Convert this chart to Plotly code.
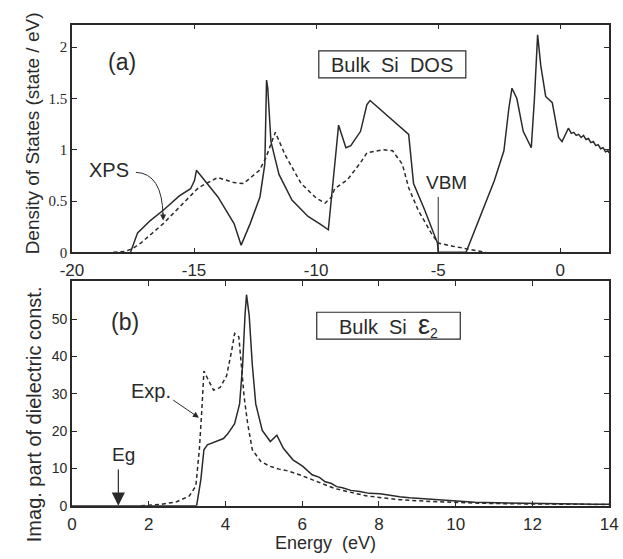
import plotly.graph_objects as go

# ---------------- (a) density of states ----------------
dos_calc_e = [-17.6, -17.31, -16.79, -16.26, -15.6, -15.14, -14.98, -14.9,
              -14.02, -13.36, -13.07, -12.70, -12.30, -12.10, -12.03, -11.98,
              -11.85, -11.52, -10.99, -10.33, -9.8, -9.5, -9.17, -9.08,
              -8.78, -8.58, -8.18, -7.92, -7.79, -7.13, -6.61, -6.21,
              -6.01, -5.55, -5.03, -5.0, -3.86, -3.23, -2.70, -2.31,
              -2.11, -1.98, -1.78, -1.52, -1.19, -1.06, -0.93, -0.80,
              -0.60, -0.33, -0.07, 0.07, 0.33, 0.45, 0.55, 0.65,
              0.75, 0.85, 0.95, 1.05, 1.15, 1.25, 1.35, 1.45,
              1.55, 1.65, 1.75, 1.85, 1.95, 2.0]
dos_calc = [0.0, 0.19, 0.31, 0.41, 0.55, 0.62, 0.70, 0.80,
            0.54, 0.28, 0.07, 0.28, 0.54, 0.86, 1.68, 1.60,
            1.08, 0.76, 0.51, 0.35, 0.27, 0.22, 1.02, 1.24,
            1.02, 1.04, 1.18, 1.44, 1.48, 1.34, 1.23, 1.15,
            0.67, 0.41, 0.09, 0.0, 0.0, 0.38, 0.70, 0.99,
            1.40, 1.60, 1.50, 1.18, 1.02, 1.50, 2.12, 1.82,
            1.52, 1.46, 1.12, 1.08, 1.21, 1.16, 1.17, 1.14,
            1.15, 1.12, 1.14, 1.10, 1.11, 1.07, 1.08, 1.04,
            1.05, 1.01, 1.02, 0.98, 0.99, 0.97]

xps_e = [-18.3, -17.8, -17.5, -17.18, -16.26, -15.47, -14.82, -14.03,
         -13.37, -12.97, -12.32, -12.06, -11.67, -11.27, -10.61, -10.0,
         -9.63, -9.37, -9.24, -8.71, -8.18, -7.92, -7.26, -6.87,
         -6.47, -6.21, -5.82, -5.29, -5.0, -4.41, -3.88, -3.23, -3.05]
xps = [0.0, 0.01, 0.04, 0.09, 0.28, 0.47, 0.63, 0.73,
       0.68, 0.67, 0.80, 0.92, 1.17, 0.95, 0.67, 0.53,
       0.48, 0.54, 0.62, 0.71, 0.875, 0.97, 1.0, 0.99,
       0.86, 0.63, 0.41, 0.19, 0.09, 0.06, 0.035, 0.01, 0.0]

# ---------------- (b) imaginary part of dielectric function ----------------
eps_calc_e = [0.0, 3.25, 3.36, 3.44, 3.53, 3.74, 3.95, 4.07, 4.24, 4.37,
              4.45, 4.51, 4.55, 4.62, 4.70, 4.79, 4.96, 5.17, 5.34, 5.51,
              5.76, 6.01, 6.26, 6.45, 6.6, 6.75, 6.9, 7.05, 7.27, 7.5,
              7.75, 8.03, 8.3, 8.54, 8.8, 9.1, 9.38, 9.7, 10.05, 10.5,
              11.06, 11.5, 12.0, 12.4, 12.74, 13.2, 13.6, 14.0]
eps_calc = [0.0, 0.0, 7.0, 15.0, 16.3, 17.2, 18.0, 19.4, 22.0, 27.3,
            37.9, 51.0, 56.6, 51.0, 37.9, 27.3, 20.2, 17.2, 18.9, 15.4,
            12.3, 10.6, 8.3, 7.6, 6.4, 6.0, 5.1, 4.8, 4.1, 3.8,
            3.3, 3.2, 2.7, 2.4, 2.1, 1.9, 1.6, 1.4, 1.1, 0.9,
            0.75, 0.65, 0.55, 0.5, 0.45, 0.42, 0.4, 0.38]

eps_exp_e = [1.8, 2.3, 2.73, 3.06, 3.23, 3.32, 3.39, 3.44, 3.57, 3.69,
             3.86, 4.03, 4.16, 4.24, 4.35, 4.41, 4.49, 4.58, 4.70, 4.92,
             5.15, 5.4, 5.6, 5.93, 6.2, 6.5, 6.85, 7.3, 7.69, 8.1,
             8.54, 9.2, 9.8, 10.6, 11.5, 12.5, 14.0]
eps_exp = [0.0, 0.3, 1.05, 2.6, 5.3, 15.0, 26.4, 36.1, 33.4, 31.0,
           31.7, 34.8, 41.4, 46.2, 45.3, 38.7, 29.0, 22.0, 15.0, 11.9,
           10.6, 9.8, 9.4, 8.3, 7.2, 5.9, 4.6, 3.5, 2.6, 2.1,
           1.6, 1.2, 0.9, 0.65, 0.5, 0.4, 0.3]

INK = "#2a2a2a"
SANS = "Liberation Sans, Arial, sans-serif"
SERIF = "Liberation Serif, Times New Roman, serif"

fig = go.Figure()

fig.add_trace(go.Scatter(x=dos_calc_e, y=dos_calc, mode="lines",
                         line=dict(color=INK, width=1.5), xaxis="x", yaxis="y"))
fig.add_trace(go.Scatter(x=xps_e, y=xps, mode="lines",
                         line=dict(color=INK, width=1.5, dash="4px,3px"),
                         xaxis="x", yaxis="y"))
fig.add_trace(go.Scatter(x=eps_calc_e, y=eps_calc, mode="lines",
                         line=dict(color=INK, width=1.5), xaxis="x2", yaxis="y2"))
fig.add_trace(go.Scatter(x=eps_exp_e, y=eps_exp, mode="lines",
                         line=dict(color=INK, width=1.5, dash="4px,3px"),
                         xaxis="x2", yaxis="y2"))

W, H = 623, 559
xdom = [62 / W, 618 / W]

axis_common = dict(showline=True, linecolor=INK, linewidth=1.5, mirror="ticks",
                   ticks="inside", ticklen=5, tickwidth=1, tickcolor=INK,
                   showgrid=False, zeroline=False, fixedrange=True,
                   ticklabeloverflow="allow")

top_xticks = [-20, -15, -10, -5, 0]
top_yticks = [0, 0.5, 1, 1.5, 2]
bot_xticks = [0, 2, 4, 6, 8, 10, 12, 14]
bot_yticks = [0, 10, 20, 30, 40, 50]

fig.update_layout(
    width=W, height=H,
    margin=dict(l=0, r=0, t=0, b=0),
    paper_bgcolor="white", plot_bgcolor="white",
    showlegend=False,
    xaxis=dict(axis_common, domain=xdom, range=[-20, 2], anchor="y",
               tickvals=top_xticks, ticktext=[str(v) for v in top_xticks],
               ticklabelstandoff=2,
               tickfont=dict(family=SANS, size=17, color=INK)),
    yaxis=dict(axis_common, domain=[1 - 256 / H, 1 - 25 / H], range=[0, 2.22], anchor="x",
               tickvals=top_yticks, ticktext=["0", "0.5", "1", "1.5", "2"],
               tickfont=dict(family=SERIF, size=15, color=INK)),
    xaxis2=dict(axis_common, domain=xdom, range=[0, 14], anchor="y2",
                tickvals=bot_xticks, ticktext=[str(v) for v in bot_xticks],
                ticklabelstandoff=2,
                tickfont=dict(family=SANS, size=17, color=INK)),
    yaxis2=dict(axis_common, domain=[1 - 513 / H, 1 - 285 / H], range=[0, 60.3], anchor="x2",
                tickvals=bot_yticks, ticktext=[str(v) for v in bot_yticks],
                tickfont=dict(family=SANS, size=14, color=INK)),
)

ann = []
# axis titles
ann.append(dict(text="Density of States (state / eV)", xref="paper", yref="paper",
                x=21 / W, y=1 - 135 / H, xanchor="center", yanchor="middle",
                textangle=-90, showarrow=False,
                font=dict(family=SANS, size=19, color=INK)))
ann.append(dict(text="Imag. part of dielectric const.", xref="paper", yref="paper",
                x=23 / W, y=1 - 420 / H, xanchor="center", yanchor="middle",
                textangle=-90, showarrow=False,
                font=dict(family=SANS, size=20, color=INK)))
ann.append(dict(text="Energy\u00a0\u00a0(eV)", xref="paper", yref="paper",
                x=324 / W, y=0, xanchor="center", yanchor="bottom", yshift=-3,
                borderpad=0, showarrow=False,
                font=dict(family=SANS, size=18, color=INK)))

# panel labels
ann.append(dict(text="(a)", xref="x", yref="y", x=-17.95, y=1.86, showarrow=False,
                font=dict(family=SANS, size=23, color=INK)))
ann.append(dict(text="(b)", xref="x2", yref="y2", x=1.38, y=49.3, showarrow=False,
                font=dict(family=SANS, size=23, color=INK)))

# boxed titles
ann.append(dict(text="Bulk\u00a0\u00a0Si\u00a0\u00a0DOS", xref="x", yref="y", x=-6.88, y=1.83,
                showarrow=False, font=dict(family=SANS, size=20, color=INK)))
ann.append(dict(text="Bulk\u00a0\u00a0Si\u00a0\u00a0<span style='font-size:27px'>ε</span><sub>2</sub>",
                xref="x2", yref="y2", x=8.25, y=48.3, showarrow=False,
                font=dict(family=SANS, size=20, color=INK)))

# XPS label with curved arrow
ann.append(dict(text="XPS", xref="x", yref="y", x=-18.5, y=0.80, showarrow=False,
                font=dict(family=SANS, size=20, color=INK)))
ann.append(dict(text="", xref="x", yref="y", x=-16.26, y=0.31, axref="x", ayref="y",
                ax=-16.27, ay=0.40, showarrow=True, arrowhead=2, arrowsize=1.2,
                arrowwidth=1, arrowcolor=INK, standoff=0))

# VBM marker
ann.append(dict(text="VBM", xref="x", yref="y", x=-4.67, y=0.68, showarrow=False,
                font=dict(family=SANS, size=19, color=INK)))

# Exp. label
ann.append(dict(text="Exp.", xref="x2", yref="y2", x=2.05, y=30.8, showarrow=False,
                font=dict(family=SANS, size=20, color=INK)))
ann.append(dict(text="", xref="x2", yref="y2", x=3.31, y=23.6, axref="x2", ayref="y2",
                ax=2.6, ay=28.6, showarrow=True, arrowhead=2, arrowsize=1.2,
                arrowwidth=1, arrowcolor=INK, standoff=0))

# band gap marker
ann.append(dict(text="Eg", xref="x2", yref="y2", x=1.34, y=13.6, showarrow=False,
                font=dict(family=SANS, size=19, color=INK)))
ann.append(dict(text="", xref="x2", yref="y2", x=1.21, y=0, axref="x2", ayref="y2",
                ax=1.21, ay=10.1, showarrow=True, arrowhead=2, arrowsize=2.2,
                arrowwidth=1.2, arrowcolor=INK, standoff=0))

fig.update_layout(annotations=ann)

shapes = [
    dict(type="rect", xref="x", yref="y", x0=-9.89, x1=-3.87, y0=1.70, y1=1.964,
         line=dict(color=INK, width=1.2)),
    dict(type="rect", xref="x2", yref="y2", x0=6.38, x1=10.12, y0=44.7, y1=51.9,
         line=dict(color=INK, width=1.2)),
    dict(type="line", xref="x", yref="y", x0=-5, x1=-5, y0=0, y1=0.54,
         line=dict(color=INK, width=1)),
    dict(type="path", xref="x", yref="y",
         path="M -17.38,0.78 Q -16.3,0.77 -16.27,0.36",
         line=dict(color=INK, width=1)),
]
fig.update_layout(shapes=shapes)

fig.write_html("out.html")
